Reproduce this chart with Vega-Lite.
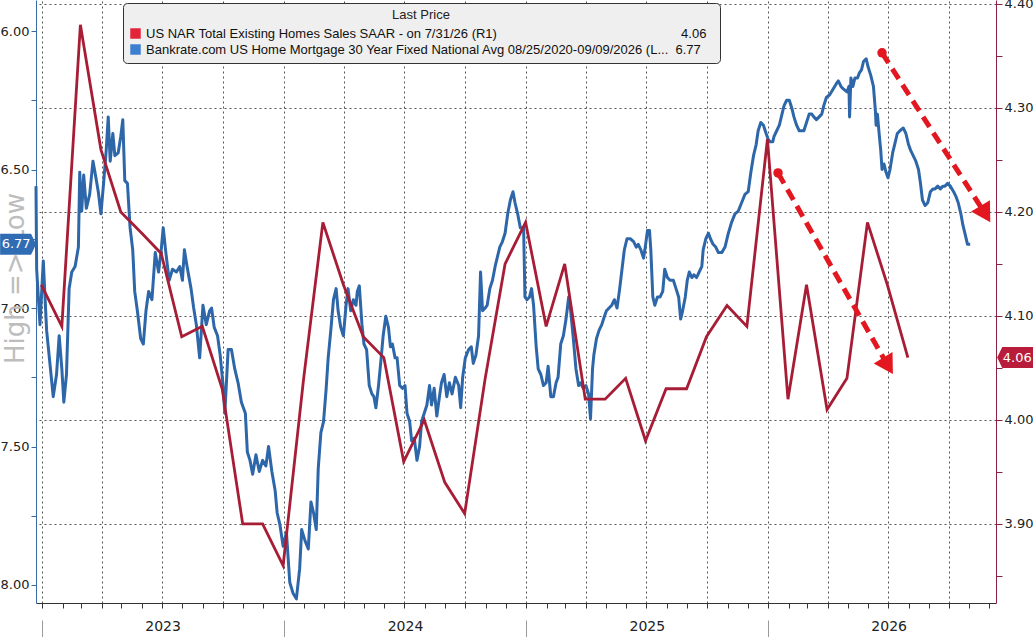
{
  "$schema": "https://vega.github.io/schema/vega-lite/v6.json",
  "width": 960,
  "height": 603,
  "autosize": {"type": "none"},
  "padding": {"left": 36, "top": 0, "right": 37, "bottom": 34},
  "background": "white",
  "config": {
    "view": {"stroke": null},
    "font": "DejaVu Sans"
  },
  "resolve": {
    "scale": {"y": "independent"},
    "axis": {"x": "independent", "y": "independent"}
  },
  "layer": [
    {
      "data": {"values": [
        {"date": "2022-12-23", "value": 6.56}, {"date": "2022-12-24", "value": 6.86}, {"date": "2022-12-29", "value": 7.06},
        {"date": "2023-01-03", "value": 6.83}, {"date": "2023-01-08", "value": 7.08}, {"date": "2023-01-13", "value": 7.20},
        {"date": "2023-01-18", "value": 7.32}, {"date": "2023-01-23", "value": 7.24}, {"date": "2023-01-27", "value": 7.10},
        {"date": "2023-01-31", "value": 7.22}, {"date": "2023-02-03", "value": 7.34}, {"date": "2023-02-07", "value": 7.24},
        {"date": "2023-02-11", "value": 6.93}, {"date": "2023-02-15", "value": 6.87}, {"date": "2023-02-20", "value": 6.85},
        {"date": "2023-02-25", "value": 6.78}, {"date": "2023-02-27", "value": 6.51}, {"date": "2023-03-02", "value": 6.65},
        {"date": "2023-03-05", "value": 6.52}, {"date": "2023-03-09", "value": 6.64}, {"date": "2023-03-14", "value": 6.59},
        {"date": "2023-03-19", "value": 6.47}, {"date": "2023-03-22", "value": 6.51}, {"date": "2023-03-27", "value": 6.58},
        {"date": "2023-03-31", "value": 6.66}, {"date": "2023-04-04", "value": 6.55}, {"date": "2023-04-08", "value": 6.43},
        {"date": "2023-04-11", "value": 6.31}, {"date": "2023-04-14", "value": 6.47}, {"date": "2023-04-18", "value": 6.37},
        {"date": "2023-04-21", "value": 6.45}, {"date": "2023-04-26", "value": 6.44}, {"date": "2023-04-30", "value": 6.38},
        {"date": "2023-05-03", "value": 6.32}, {"date": "2023-05-06", "value": 6.54}, {"date": "2023-05-10", "value": 6.55},
        {"date": "2023-05-14", "value": 6.71}, {"date": "2023-05-18", "value": 6.79}, {"date": "2023-05-21", "value": 6.94},
        {"date": "2023-05-25", "value": 7.01}, {"date": "2023-05-30", "value": 7.11}, {"date": "2023-06-03", "value": 7.13},
        {"date": "2023-06-07", "value": 7.01}, {"date": "2023-06-11", "value": 6.94}, {"date": "2023-06-16", "value": 6.97},
        {"date": "2023-06-21", "value": 6.80}, {"date": "2023-06-26", "value": 6.87}, {"date": "2023-06-30", "value": 6.79},
        {"date": "2023-07-03", "value": 6.71}, {"date": "2023-07-07", "value": 6.80}, {"date": "2023-07-12", "value": 6.90},
        {"date": "2023-07-17", "value": 6.86}, {"date": "2023-07-23", "value": 6.87}, {"date": "2023-07-28", "value": 6.85},
        {"date": "2023-08-01", "value": 6.90}, {"date": "2023-08-04", "value": 6.79}, {"date": "2023-08-08", "value": 6.85},
        {"date": "2023-08-14", "value": 6.93}, {"date": "2023-08-18", "value": 7.00}, {"date": "2023-08-22", "value": 7.06},
        {"date": "2023-08-27", "value": 7.18}, {"date": "2023-09-01", "value": 6.99}, {"date": "2023-09-06", "value": 7.06},
        {"date": "2023-09-11", "value": 7.01}, {"date": "2023-09-14", "value": 7.00}, {"date": "2023-09-18", "value": 7.07},
        {"date": "2023-09-23", "value": 7.10}, {"date": "2023-09-27", "value": 7.17}, {"date": "2023-10-01", "value": 7.27},
        {"date": "2023-10-04", "value": 7.38}, {"date": "2023-10-09", "value": 7.15}, {"date": "2023-10-14", "value": 7.15},
        {"date": "2023-10-19", "value": 7.22}, {"date": "2023-10-24", "value": 7.27}, {"date": "2023-10-29", "value": 7.34},
        {"date": "2023-11-04", "value": 7.38}, {"date": "2023-11-07", "value": 7.52}, {"date": "2023-11-11", "value": 7.55},
        {"date": "2023-11-15", "value": 7.60}, {"date": "2023-11-20", "value": 7.53}, {"date": "2023-11-25", "value": 7.59},
        {"date": "2023-11-30", "value": 7.55}, {"date": "2023-12-05", "value": 7.57}, {"date": "2023-12-09", "value": 7.50},
        {"date": "2023-12-14", "value": 7.59}, {"date": "2023-12-19", "value": 7.66}, {"date": "2023-12-22", "value": 7.74},
        {"date": "2023-12-26", "value": 7.78}, {"date": "2023-12-31", "value": 7.86}, {"date": "2024-01-05", "value": 7.81},
        {"date": "2024-01-10", "value": 7.99}, {"date": "2024-01-15", "value": 8.03}, {"date": "2024-01-20", "value": 8.05},
        {"date": "2024-01-25", "value": 7.94}, {"date": "2024-01-28", "value": 7.80}, {"date": "2024-02-02", "value": 7.84},
        {"date": "2024-02-07", "value": 7.87}, {"date": "2024-02-11", "value": 7.70}, {"date": "2024-02-15", "value": 7.74},
        {"date": "2024-02-19", "value": 7.80}, {"date": "2024-02-22", "value": 7.58}, {"date": "2024-02-26", "value": 7.45},
        {"date": "2024-03-01", "value": 7.41}, {"date": "2024-03-05", "value": 7.29}, {"date": "2024-03-08", "value": 7.18},
        {"date": "2024-03-12", "value": 7.08}, {"date": "2024-03-16", "value": 6.97}, {"date": "2024-03-20", "value": 6.93},
        {"date": "2024-03-23", "value": 7.01}, {"date": "2024-03-27", "value": 7.07}, {"date": "2024-03-31", "value": 7.10},
        {"date": "2024-04-04", "value": 6.99}, {"date": "2024-04-07", "value": 6.93}, {"date": "2024-04-11", "value": 7.01},
        {"date": "2024-04-15", "value": 6.97}, {"date": "2024-04-19", "value": 6.99}, {"date": "2024-04-21", "value": 6.94},
        {"date": "2024-04-24", "value": 6.92}, {"date": "2024-04-28", "value": 7.06}, {"date": "2024-05-01", "value": 7.13},
        {"date": "2024-05-05", "value": 7.15}, {"date": "2024-05-09", "value": 7.28}, {"date": "2024-05-13", "value": 7.31},
        {"date": "2024-05-16", "value": 7.32}, {"date": "2024-05-19", "value": 7.36}, {"date": "2024-05-23", "value": 7.28},
        {"date": "2024-05-27", "value": 7.18}, {"date": "2024-05-30", "value": 7.10}, {"date": "2024-06-03", "value": 7.03},
        {"date": "2024-06-07", "value": 7.07}, {"date": "2024-06-10", "value": 7.14}, {"date": "2024-06-13", "value": 7.13},
        {"date": "2024-06-17", "value": 7.18}, {"date": "2024-06-20", "value": 7.18}, {"date": "2024-06-24", "value": 7.28},
        {"date": "2024-06-28", "value": 7.29}, {"date": "2024-07-02", "value": 7.28}, {"date": "2024-07-05", "value": 7.38},
        {"date": "2024-07-09", "value": 7.41}, {"date": "2024-07-12", "value": 7.48}, {"date": "2024-07-16", "value": 7.47},
        {"date": "2024-07-20", "value": 7.55}, {"date": "2024-07-24", "value": 7.50}, {"date": "2024-07-27", "value": 7.41},
        {"date": "2024-07-31", "value": 7.38}, {"date": "2024-08-04", "value": 7.35}, {"date": "2024-08-08", "value": 7.28},
        {"date": "2024-08-11", "value": 7.35}, {"date": "2024-08-15", "value": 7.29}, {"date": "2024-08-19", "value": 7.39},
        {"date": "2024-08-23", "value": 7.32}, {"date": "2024-08-26", "value": 7.27}, {"date": "2024-08-30", "value": 7.24},
        {"date": "2024-09-03", "value": 7.32}, {"date": "2024-09-07", "value": 7.27}, {"date": "2024-09-11", "value": 7.31},
        {"date": "2024-09-16", "value": 7.25}, {"date": "2024-09-21", "value": 7.28}, {"date": "2024-09-24", "value": 7.36},
        {"date": "2024-09-27", "value": 7.25}, {"date": "2024-10-01", "value": 7.18}, {"date": "2024-10-06", "value": 7.15},
        {"date": "2024-10-10", "value": 7.14}, {"date": "2024-10-13", "value": 7.20}, {"date": "2024-10-17", "value": 7.17},
        {"date": "2024-10-21", "value": 7.10}, {"date": "2024-10-24", "value": 6.87}, {"date": "2024-10-27", "value": 7.01},
        {"date": "2024-10-31", "value": 7.00}, {"date": "2024-11-03", "value": 6.99}, {"date": "2024-11-07", "value": 6.93},
        {"date": "2024-11-11", "value": 6.90}, {"date": "2024-11-15", "value": 6.85}, {"date": "2024-11-18", "value": 6.82},
        {"date": "2024-11-22", "value": 6.78}, {"date": "2024-11-26", "value": 6.76}, {"date": "2024-11-30", "value": 6.73},
        {"date": "2024-12-04", "value": 6.66}, {"date": "2024-12-08", "value": 6.61}, {"date": "2024-12-12", "value": 6.58},
        {"date": "2024-12-15", "value": 6.62}, {"date": "2024-12-19", "value": 6.66}, {"date": "2024-12-23", "value": 6.71},
        {"date": "2024-12-28", "value": 6.71}, {"date": "2024-12-30", "value": 6.96}, {"date": "2025-01-02", "value": 6.97},
        {"date": "2025-01-06", "value": 6.96}, {"date": "2025-01-09", "value": 6.93}, {"date": "2025-01-12", "value": 6.99},
        {"date": "2025-01-16", "value": 7.14}, {"date": "2025-01-19", "value": 7.22}, {"date": "2025-01-23", "value": 7.24},
        {"date": "2025-01-27", "value": 7.28}, {"date": "2025-01-31", "value": 7.27}, {"date": "2025-02-03", "value": 7.21},
        {"date": "2025-02-07", "value": 7.32}, {"date": "2025-02-11", "value": 7.32}, {"date": "2025-02-15", "value": 7.27},
        {"date": "2025-02-18", "value": 7.25}, {"date": "2025-02-22", "value": 7.13}, {"date": "2025-02-26", "value": 7.10},
        {"date": "2025-03-02", "value": 7.04}, {"date": "2025-03-06", "value": 6.96}, {"date": "2025-03-09", "value": 7.01},
        {"date": "2025-03-13", "value": 7.11}, {"date": "2025-03-17", "value": 7.22}, {"date": "2025-03-21", "value": 7.28},
        {"date": "2025-03-24", "value": 7.27}, {"date": "2025-03-28", "value": 7.29}, {"date": "2025-04-01", "value": 7.28},
        {"date": "2025-04-05", "value": 7.31}, {"date": "2025-04-08", "value": 7.40}, {"date": "2025-04-11", "value": 7.22},
        {"date": "2025-04-13", "value": 7.17}, {"date": "2025-04-17", "value": 7.11}, {"date": "2025-04-21", "value": 7.08},
        {"date": "2025-04-25", "value": 7.06}, {"date": "2025-04-29", "value": 7.03}, {"date": "2025-05-02", "value": 7.01},
        {"date": "2025-05-06", "value": 7.00}, {"date": "2025-05-10", "value": 6.99}, {"date": "2025-05-14", "value": 6.97},
        {"date": "2025-05-18", "value": 7.00}, {"date": "2025-05-22", "value": 6.93}, {"date": "2025-05-25", "value": 6.87},
        {"date": "2025-05-29", "value": 6.79}, {"date": "2025-06-02", "value": 6.75}, {"date": "2025-06-07", "value": 6.75},
        {"date": "2025-06-12", "value": 6.76}, {"date": "2025-06-16", "value": 6.78}, {"date": "2025-06-19", "value": 6.77},
        {"date": "2025-06-23", "value": 6.79}, {"date": "2025-06-27", "value": 6.82}, {"date": "2025-06-29", "value": 6.79},
        {"date": "2025-07-03", "value": 6.72}, {"date": "2025-07-06", "value": 6.72}, {"date": "2025-07-08", "value": 6.79},
        {"date": "2025-07-11", "value": 6.96}, {"date": "2025-07-14", "value": 6.99}, {"date": "2025-07-18", "value": 6.96},
        {"date": "2025-07-22", "value": 6.96}, {"date": "2025-07-26", "value": 6.94}, {"date": "2025-07-29", "value": 6.86},
        {"date": "2025-08-02", "value": 6.89}, {"date": "2025-08-06", "value": 6.90}, {"date": "2025-08-11", "value": 6.90},
        {"date": "2025-08-15", "value": 6.93}, {"date": "2025-08-19", "value": 6.96}, {"date": "2025-08-22", "value": 7.04},
        {"date": "2025-08-25", "value": 7.01}, {"date": "2025-08-29", "value": 6.96}, {"date": "2025-09-01", "value": 6.90},
        {"date": "2025-09-04", "value": 6.87}, {"date": "2025-09-08", "value": 6.89}, {"date": "2025-09-11", "value": 6.88},
        {"date": "2025-09-15", "value": 6.89}, {"date": "2025-09-19", "value": 6.87}, {"date": "2025-09-23", "value": 6.85},
        {"date": "2025-09-25", "value": 6.79}, {"date": "2025-09-29", "value": 6.75}, {"date": "2025-10-03", "value": 6.73},
        {"date": "2025-10-06", "value": 6.75}, {"date": "2025-10-10", "value": 6.77}, {"date": "2025-10-14", "value": 6.78},
        {"date": "2025-10-18", "value": 6.80}, {"date": "2025-10-23", "value": 6.80}, {"date": "2025-10-28", "value": 6.78},
        {"date": "2025-11-02", "value": 6.73}, {"date": "2025-11-07", "value": 6.69}, {"date": "2025-11-12", "value": 6.66},
        {"date": "2025-11-17", "value": 6.65}, {"date": "2025-11-22", "value": 6.62}, {"date": "2025-11-27", "value": 6.59},
        {"date": "2025-12-02", "value": 6.58}, {"date": "2025-12-06", "value": 6.51}, {"date": "2025-12-10", "value": 6.45},
        {"date": "2025-12-14", "value": 6.41}, {"date": "2025-12-17", "value": 6.36}, {"date": "2025-12-21", "value": 6.33},
        {"date": "2025-12-25", "value": 6.34}, {"date": "2025-12-29", "value": 6.37}, {"date": "2026-01-01", "value": 6.39},
        {"date": "2026-01-04", "value": 6.40}, {"date": "2026-01-08", "value": 6.40}, {"date": "2026-01-10", "value": 6.38},
        {"date": "2026-01-14", "value": 6.36}, {"date": "2026-01-18", "value": 6.34}, {"date": "2026-01-22", "value": 6.30},
        {"date": "2026-01-25", "value": 6.27}, {"date": "2026-01-29", "value": 6.25}, {"date": "2026-02-02", "value": 6.25},
        {"date": "2026-02-06", "value": 6.28}, {"date": "2026-02-09", "value": 6.31}, {"date": "2026-02-13", "value": 6.34},
        {"date": "2026-02-17", "value": 6.36}, {"date": "2026-02-21", "value": 6.36}, {"date": "2026-02-24", "value": 6.36},
        {"date": "2026-02-28", "value": 6.33}, {"date": "2026-03-04", "value": 6.30}, {"date": "2026-03-08", "value": 6.30},
        {"date": "2026-03-11", "value": 6.31}, {"date": "2026-03-15", "value": 6.32}, {"date": "2026-03-19", "value": 6.31},
        {"date": "2026-03-23", "value": 6.30}, {"date": "2026-03-26", "value": 6.27}, {"date": "2026-03-30", "value": 6.24},
        {"date": "2026-04-04", "value": 6.23}, {"date": "2026-04-09", "value": 6.21}, {"date": "2026-04-14", "value": 6.19},
        {"date": "2026-04-17", "value": 6.18}, {"date": "2026-04-21", "value": 6.20}, {"date": "2026-04-25", "value": 6.21},
        {"date": "2026-04-30", "value": 6.22}, {"date": "2026-05-03", "value": 6.20}, {"date": "2026-05-04", "value": 6.31},
        {"date": "2026-05-06", "value": 6.17}, {"date": "2026-05-09", "value": 6.20}, {"date": "2026-05-12", "value": 6.17},
        {"date": "2026-05-16", "value": 6.17}, {"date": "2026-05-19", "value": 6.15}, {"date": "2026-05-22", "value": 6.14},
        {"date": "2026-05-25", "value": 6.11}, {"date": "2026-05-29", "value": 6.10}, {"date": "2026-06-01", "value": 6.13},
        {"date": "2026-06-05", "value": 6.16}, {"date": "2026-06-09", "value": 6.20}, {"date": "2026-06-12", "value": 6.29},
        {"date": "2026-06-13", "value": 6.34}, {"date": "2026-06-15", "value": 6.30}, {"date": "2026-06-18", "value": 6.38},
        {"date": "2026-06-20", "value": 6.43}, {"date": "2026-06-22", "value": 6.50}, {"date": "2026-06-25", "value": 6.48},
        {"date": "2026-06-28", "value": 6.51}, {"date": "2026-07-01", "value": 6.53}, {"date": "2026-07-04", "value": 6.50},
        {"date": "2026-07-08", "value": 6.44}, {"date": "2026-07-12", "value": 6.40}, {"date": "2026-07-15", "value": 6.37},
        {"date": "2026-07-19", "value": 6.36}, {"date": "2026-07-24", "value": 6.35}, {"date": "2026-07-28", "value": 6.37},
        {"date": "2026-08-01", "value": 6.41}, {"date": "2026-08-04", "value": 6.43}, {"date": "2026-08-08", "value": 6.45},
        {"date": "2026-08-12", "value": 6.47}, {"date": "2026-08-16", "value": 6.50}, {"date": "2026-08-19", "value": 6.55},
        {"date": "2026-08-22", "value": 6.61}, {"date": "2026-08-26", "value": 6.63}, {"date": "2026-08-30", "value": 6.62},
        {"date": "2026-09-03", "value": 6.58}, {"date": "2026-09-07", "value": 6.57}, {"date": "2026-09-10", "value": 6.57},
        {"date": "2026-09-14", "value": 6.56}, {"date": "2026-09-18", "value": 6.57}, {"date": "2026-09-22", "value": 6.56},
        {"date": "2026-09-25", "value": 6.56}, {"date": "2026-09-29", "value": 6.55}, {"date": "2026-10-03", "value": 6.56},
        {"date": "2026-10-08", "value": 6.58}, {"date": "2026-10-12", "value": 6.60}, {"date": "2026-10-15", "value": 6.62},
        {"date": "2026-10-19", "value": 6.66}, {"date": "2026-10-22", "value": 6.70}, {"date": "2026-10-25", "value": 6.73},
        {"date": "2026-10-29", "value": 6.77}, {"date": "2026-11-02", "value": 6.77}
      ]},
      "mark": {"type": "line", "strokeWidth": 3, "strokeJoin": "round"},
      "encoding": {
        "x": {
          "field": "date",
          "type": "temporal",
          "scale": {"domain": [{"year": 2022, "month": 12, "date": 23}, {"year": 2026, "month": 12, "date": 11}]},
          "axis": {
            "orient": "bottom",
            "tickCount": {"interval": "month", "step": 3},
            "grid": true,
            "gridDash": [2, 3],
            "gridColor": "#555555",
            "gridOpacity": 1,
            "ticks": false,
            "labels": false,
            "domain": false,
            "title": null
          }
        },
        "y": {
          "field": "value",
          "type": "quantitative",
          "scale": {"domain": [5.888, 8.065], "reverse": true, "nice": false, "zero": false},
          "axis": {
            "orient": "left",
            "values": [6, 6.25, 6.5, 6.75, 7, 7.25, 7.5, 7.75, 8],
            "labelExpr": "round(datum.value * 4) % 2 == 0 ? format(datum.value, '.2f') : ''",
            "grid": false,
            "domainColor": "#3a6aa6",
            "tickColor": "#3a6aa6",
            "tickSize": 5,
            "labelPadding": 2,
            "labelFontSize": 13,
            "labelColor": "#222222",
            "title": "High => Low",
            "titleFontSize": 26,
            "titleFontWeight": "normal",
            "titleColor": "#bdbdbd",
            "titleAngle": 270,
            "titleX": -21,
            "titleY": 278,
            "titleAlign": "center",
            "titleBaseline": "middle"
          }
        },
        "color": {
          "datum": "Bankrate.com US Home Mortgage 30 Year Fixed National Avg 08/25/2020-09/09/2026   (L...",
          "type": "nominal",
          "scale": {
            "domain": ["US NAR Total Existing Homes Sales SAAR -  on 7/31/26  (R1)", "Bankrate.com US Home Mortgage 30 Year Fixed National Avg 08/25/2020-09/09/2026   (L..."],
            "range": ["#a81d36", "#2e67a9"]
          },
          "legend": {
            "orient": "none",
            "legendX": 87,
            "legendY": 3,
            "title": "Last Price",
            "titleAnchor": "middle",
            "titleFontWeight": "normal",
            "titleFontSize": 13,
            "titleColor": "#222222",
            "titleFont": "Liberation Sans",
            "labelFont": "Liberation Sans",
            "labelFontSize": 13,
            "labelColor": "#111111",
            "labelLimit": 800,
            "labelExpr": "indexof(datum.label, 'NAR') >= 0 ? pad(datum.label, 109, '\u00a0') + '4.06' : datum.label + '\u00a0\u00a0' + '6.77'",
            "symbolType": "square",
            "symbolSize": 110,
            "symbolStrokeWidth": 0,
            "rowPadding": 2,
            "padding": 6,
            "fillColor": "#efefef",
            "strokeColor": "#333333",
            "cornerRadius": 4,
            "encode": {
              "symbols": {
                "update": {
                  "fill": {"signal": "indexof(datum.value, 'NAR') >= 0 ? '#e2233a' : '#3b7fd0'"},
                  "opacity": {"value": 1}
                }
              }
            }
          }
        }
      }
    },
    {
      "data": {"values": [
        {"date": "2022-12-31", "value": 4.13}, {"date": "2023-01-31", "value": 4.09}, {"date": "2023-02-28", "value": 4.38},
        {"date": "2023-03-31", "value": 4.26}, {"date": "2023-04-30", "value": 4.20}, {"date": "2023-05-31", "value": 4.18},
        {"date": "2023-06-30", "value": 4.16}, {"date": "2023-07-31", "value": 4.08}, {"date": "2023-08-31", "value": 4.09},
        {"date": "2023-09-30", "value": 4.03}, {"date": "2023-10-31", "value": 3.90}, {"date": "2023-11-30", "value": 3.90},
        {"date": "2023-12-31", "value": 3.86}, {"date": "2024-01-31", "value": 4.04}, {"date": "2024-02-29", "value": 4.19},
        {"date": "2024-03-31", "value": 4.13}, {"date": "2024-04-30", "value": 4.08}, {"date": "2024-05-31", "value": 4.06},
        {"date": "2024-06-30", "value": 3.96}, {"date": "2024-07-31", "value": 4.00}, {"date": "2024-08-31", "value": 3.94},
        {"date": "2024-09-30", "value": 3.91}, {"date": "2024-10-31", "value": 4.04}, {"date": "2024-11-30", "value": 4.15},
        {"date": "2024-12-31", "value": 4.19}, {"date": "2025-01-31", "value": 4.09}, {"date": "2025-02-28", "value": 4.15},
        {"date": "2025-03-31", "value": 4.02}, {"date": "2025-04-30", "value": 4.02}, {"date": "2025-05-31", "value": 4.04},
        {"date": "2025-06-30", "value": 3.98}, {"date": "2025-07-31", "value": 4.03}, {"date": "2025-08-31", "value": 4.03},
        {"date": "2025-09-30", "value": 4.08}, {"date": "2025-10-31", "value": 4.11}, {"date": "2025-11-30", "value": 4.09},
        {"date": "2025-12-31", "value": 4.27}, {"date": "2026-01-31", "value": 4.02}, {"date": "2026-02-28", "value": 4.13},
        {"date": "2026-03-31", "value": 4.01}, {"date": "2026-04-30", "value": 4.04}, {"date": "2026-05-31", "value": 4.19},
        {"date": "2026-06-30", "value": 4.13}, {"date": "2026-07-31", "value": 4.06}
      ]},
      "mark": {"type": "line", "strokeWidth": 2.8, "strokeJoin": "miter"},
      "encoding": {
        "x": {
          "field": "date",
          "type": "temporal",
          "axis": {
            "orient": "bottom",
            "tickCount": {"interval": "month", "step": 1},
            "grid": false,
            "labels": false,
            "ticks": true,
            "tickSize": 5,
            "tickColor": "#333333",
            "domainColor": "#333333",
            "title": null
          }
        },
        "y": {
          "field": "value",
          "type": "quantitative",
          "scale": {"domain": [3.824, 4.4038], "nice": false, "zero": false},
          "axis": {
            "orient": "right",
            "values": [3.85, 3.9, 3.95, 4.0, 4.05, 4.1, 4.15, 4.2, 4.25, 4.3, 4.35, 4.4],
            "labelExpr": "round(datum.value * 20) % 2 == 0 ? format(datum.value, '.2f') : ''",
            "grid": false,
            "domainColor": "#8c2242",
            "tickColor": "#8c2242",
            "tickSize": 6,
            "labelPadding": 2,
            "labelFontSize": 13,
            "labelColor": "#222222",
            "title": null
          }
        },
        "color": {"datum": "US NAR Total Existing Homes Sales SAAR -  on 7/31/26  (R1)", "type": "nominal"}
      }
    },
    {
      "data": {"values": [
        {"date": "2026-01-16", "value": 4.2375, "date2": "2026-07-01", "value2": 4.052},
        {"date": "2026-06-22", "value": 4.353, "date2": "2026-11-25", "value2": 4.198}
      ]},
      "mark": {"type": "rule", "color": "#e3171f", "strokeWidth": 5, "strokeDash": [12, 7], "strokeCap": "butt"},
      "encoding": {
        "x": {
          "field": "date",
          "type": "temporal",
          "axis": {
            "orient": "bottom",
            "tickCount": {"interval": "year", "step": 1},
            "offset": 17,
            "tickSize": 17,
            "tickColor": "#9a9a9a",
            "domain": false,
            "labels": false,
            "grid": false,
            "title": null
          }
        },
        "x2": {"field": "date2"},
        "y": {
          "field": "value",
          "type": "quantitative",
          "scale": {"domain": [3.824, 4.4038], "nice": false, "zero": false},
          "axis": {
            "orient": "right",
            "values": [3.9, 4.0, 4.1, 4.2, 4.3, 4.4],
            "grid": true,
            "gridDash": [2, 3],
            "gridColor": "#555555",
            "gridOpacity": 1,
            "ticks": false,
            "labels": false,
            "domain": false,
            "title": null
          }
        },
        "y2": {"field": "value2"}
      }
    },
    {
      "data": {"values": [
        {"date": "2026-01-16", "value": 4.2375},
        {"date": "2026-06-22", "value": 4.353}
      ]},
      "mark": {"type": "point", "shape": "circle", "filled": true, "size": 90, "color": "#e3171f", "opacity": 1},
      "encoding": {
        "x": {
          "field": "date",
          "type": "temporal",
          "axis": {
            "orient": "bottom",
            "values": [
              {"year": 2023, "month": 7, "date": 2},
              {"year": 2024, "month": 7, "date": 2},
              {"year": 2025, "month": 7, "date": 2},
              {"year": 2026, "month": 7, "date": 2}
            ],
            "format": "%Y",
            "ticks": false,
            "domain": false,
            "grid": false,
            "labelPadding": 16,
            "labelFontSize": 14,
            "labelColor": "#222222",
            "title": null
          }
        },
        "y": {
          "field": "value",
          "type": "quantitative",
          "scale": {"domain": [3.824, 4.4038], "nice": false, "zero": false},
          "axis": null
        }
      }
    },
    {
      "data": {"values": [
        {"date": "2026-07-01", "value": 4.052},
        {"date": "2026-11-25", "value": 4.198}
      ]},
      "mark": {"type": "point", "shape": "triangle-down", "filled": true, "size": 480, "angle": 329, "color": "#e3171f", "opacity": 1},
      "encoding": {
        "x": {"field": "date", "type": "temporal", "axis": null},
        "y": {
          "field": "value",
          "type": "quantitative",
          "scale": {"domain": [3.824, 4.4038], "nice": false, "zero": false},
          "axis": null
        }
      }
    },
    {
      "data": {"values": [{"label": "6.77"}]},
      "mark": {"type": "point", "shape": "M-1,-0.58L0.72,-0.58L1,0L0.72,0.58L-1,0.58Z", "filled": true, "size": 1296, "color": "#2f6cb3", "opacity": 1},
      "encoding": {
        "x": {"datum": {"year": 2022, "month": 11, "date": 26}, "type": "temporal", "axis": null},
        "y": {
          "datum": 6.77,
          "type": "quantitative",
          "scale": {"domain": [5.888, 8.065], "reverse": true, "nice": false, "zero": false},
          "axis": null
        }
      }
    },
    {
      "data": {"values": [{"label": "6.77"}]},
      "mark": {"type": "text", "color": "white", "fontSize": 13, "align": "center", "baseline": "middle", "dx": -2},
      "encoding": {
        "x": {"datum": {"year": 2022, "month": 11, "date": 26}, "type": "temporal", "axis": null},
        "y": {
          "datum": 6.77,
          "type": "quantitative",
          "scale": {"domain": [5.888, 8.065], "reverse": true, "nice": false, "zero": false},
          "axis": null
        },
        "text": {"field": "label"}
      }
    },
    {
      "data": {"values": [{"label": "4.06"}]},
      "mark": {"type": "point", "shape": "M1,-0.58L-0.72,-0.58L-1,0L-0.72,0.58L1,0.58Z", "filled": true, "size": 1296, "color": "#b81c3a", "opacity": 1},
      "encoding": {
        "x": {"datum": {"year": 2027, "month": 1, "date": 9}, "type": "temporal", "axis": null},
        "y": {
          "datum": 4.06,
          "type": "quantitative",
          "scale": {"domain": [3.824, 4.4038], "nice": false, "zero": false},
          "axis": null
        }
      }
    },
    {
      "data": {"values": [{"label": "4.06"}]},
      "mark": {"type": "text", "color": "white", "fontSize": 13, "align": "center", "baseline": "middle", "dx": 2},
      "encoding": {
        "x": {"datum": {"year": 2027, "month": 1, "date": 9}, "type": "temporal", "axis": null},
        "y": {
          "datum": 4.06,
          "type": "quantitative",
          "scale": {"domain": [3.824, 4.4038], "nice": false, "zero": false},
          "axis": null
        },
        "text": {"field": "label"}
      }
    }
  ]
}
